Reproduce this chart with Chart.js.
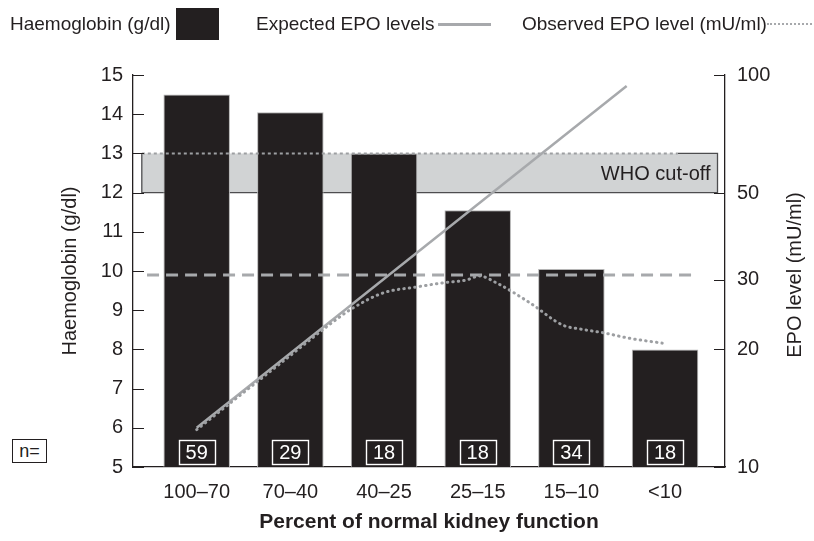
<!DOCTYPE html>
<html>
<head>
<meta charset="utf-8">
<script src="https://cdn.jsdelivr.net/npm/chart.js@4.4.1/dist/chart.umd.min.js"></script>
<style>
  body { margin: 0; background: #fff; }
  #wrap { position: relative; width: 814px; height: 541px; font-family: "Liberation Sans", Arial, sans-serif; color: #231f20; }
  #chart { position: absolute; left: 0; top: 0; }
  .lg { position: absolute; font-size: 19px; line-height: 22px; white-space: nowrap; }
  .mark { position: absolute; }
  #nlabel { position: absolute; left: 12px; top: 439px; width: 33px; height: 22px; border: 1.3px solid #231f20;
            font-size: 18px; line-height: 22px; text-align: center; background: #fff; }
</style>
</head>
<body>
<div id="wrap">
  <canvas id="chart" width="814" height="541"></canvas>
  <div id="legend"></div>
  <div id="nlabel">n=</div>
</div>
<script>
const $ = (id) => document.getElementById(id);

// categories along the x axis (percent of normal kidney function)
const categories = ["100–70", "70–40", "40–25", "25–15", "15–10", "<10"];
// mean haemoglobin per group, g/dl
const haemoglobin = [14.5, 14.05, 13.0, 11.55, 10.05, 8.0];
// number of patients per group
const patientCounts = [59, 29, 18, 18, 34, 18];
// EPO lines, x = position along the category axis (0 = first group)
const expectedEpo = [
  { x: 0, y: 12.6 },
  { x: 4.59, y: 93.7 }
];
const observedEpo = [
  { x: 0, y: 12.45 }, { x: 1, y: 19.25 }, { x: 1.42, y: 23.1 }, { x: 1.64, y: 25.2 },
  { x: 1.99, y: 27.8 }, { x: 2.35, y: 28.8 }, { x: 2.63, y: 29.5 }, { x: 2.88, y: 30.0 },
  { x: 3.02, y: 30.7 }, { x: 3.2, y: 29.5 }, { x: 3.56, y: 26.2 }, { x: 3.91, y: 23.0 },
  { x: 4.09, y: 22.5 }, { x: 4.34, y: 22.0 }, { x: 4.62, y: 21.3 }, { x: 4.97, y: 20.7 }
];
// WHO cut-off band (g/dl) and its extent along the x axis
const whoBand = [12, 13];
const whoSpan = [-0.586, 5.56];
const whoDottedEnd = 5.135;
// dashed reference level (g/dl) and its extent
const refLevel = 9.9;
const refSpan = [-0.53, 5.35];
// axis ticks
const hbTicks = [5, 6, 7, 8, 9, 10, 11, 12, 13, 14, 15];
const epoTicks = [10, 20, 30, 50, 100];

const legendItems = [
  { label: "Haemoglobin (g/dl)", x: 10, kind: "box", mx: 176 },
  { label: "Expected EPO levels", x: 256, kind: "line", mx: 438 },
  { label: "Observed EPO level (mU/ml)", x: 522, kind: "dots", mx: 767 }
];

const INK = "#231f20";
const GREY = "#a7a9ac";
const FONT = "'Liberation Sans', Arial, sans-serif";

function renderLegend() {
  let html = "";
  legendItems.forEach((it) => {
    html += `<span class="lg" style="left:${it.x}px;top:13px">${it.label}</span>`;
    if (it.kind === "box") {
      html += `<span class="mark" style="left:${it.mx}px;top:8px;width:43px;height:32px;background:${INK}"></span>`;
    } else if (it.kind === "line") {
      html += `<span class="mark" style="left:${it.mx}px;top:23px;width:53px;border-top:3px solid ${GREY}"></span>`;
    } else {
      html += `<span class="mark" style="left:${it.mx}px;top:23px;width:45px;border-top:2px dotted ${GREY}"></span>`;
    }
  });
  $("legend").innerHTML = html;
}

const annotate = {
  id: "annotate",
  afterDatasetsDraw(chart) {
    const { ctx, chartArea, scales } = chart;
    const { x, y, y2 } = scales;
    ctx.save();
    // tick marks pointing into the plot
    ctx.strokeStyle = INK;
    ctx.lineWidth = 1.2;
    ctx.beginPath();
    y.ticks.forEach((t) => {
      const py = Math.round(y.getPixelForValue(t.value)) + 0.5;
      ctx.moveTo(chartArea.left, py);
      ctx.lineTo(chartArea.left + 11, py);
    });
    y2.ticks.forEach((t) => {
      const py = Math.round(y2.getPixelForValue(t.value)) + 0.5;
      ctx.moveTo(chartArea.right, py);
      ctx.lineTo(chartArea.right - 11, py);
    });
    ctx.stroke();

    // patient counts
    ctx.font = `20px ${FONT}`;
    ctx.textAlign = "center";
    ctx.textBaseline = "middle";
    const by = chartArea.bottom - 15;
    patientCounts.forEach((n, i) => {
      const bx = x.getPixelForValue(i);
      ctx.strokeStyle = "#ffffff";
      ctx.lineWidth = 1.4;
      ctx.strokeRect(Math.round(bx - 18) + 0.5, Math.round(by - 12) + 0.5, 36, 24);
      ctx.fillStyle = "#ffffff";
      ctx.fillText(String(n), bx, by + 1);
    });

    // WHO label
    ctx.fillStyle = INK;
    ctx.textAlign = "right";
    ctx.fillText("WHO cut-off", x.getPixelForValue(whoSpan[1]) - 7, y.getPixelForValue((whoBand[0] + whoBand[1]) / 2) + 1);

    // right axis title, reading upwards
    ctx.translate(795, (chartArea.top + chartArea.bottom) / 2 + 4);
    ctx.rotate(-Math.PI / 2);
    ctx.textAlign = "center";
    ctx.font = `20px ${FONT}`;
    ctx.fillText("EPO level (mU/ml)", 0, 0);
    ctx.restore();
  }
};

Chart.defaults.font.family = FONT;
Chart.defaults.color = INK;

renderLegend();

new Chart($("chart").getContext("2d"), {
  type: "bar",
  data: {
    datasets: [
      {
        type: "line",
        label: "WHO band",
        data: [{ x: whoSpan[0], y: whoBand[1] }, { x: whoSpan[1], y: whoBand[1] }],
        yAxisID: "y",
        borderWidth: 0,
        pointRadius: 0,
        backgroundColor: "#d1d3d4",
        fill: { value: whoBand[0] },
        order: 10
      },
      {
        type: "line",
        label: "WHO outline",
        data: [
          { x: whoDottedEnd, y: whoBand[1] }, { x: whoSpan[1], y: whoBand[1] },
          { x: whoSpan[1], y: whoBand[0] }, { x: whoSpan[0], y: whoBand[0] },
          { x: whoSpan[0], y: whoBand[1] }
        ],
        yAxisID: "y",
        borderColor: "#4d4d4f",
        borderWidth: 1.3,
        pointRadius: 0,
        fill: false,
        order: 9
      },
      {
        label: "Haemoglobin (g/dl)",
        data: haemoglobin.map((v, i) => ({ x: i, y: v })),
        yAxisID: "y",
        backgroundColor: INK,
        borderColor: "#b5b5b5",
        borderWidth: 1,
        categoryPercentage: 1,
        barPercentage: 0.71,
        order: 5
      },
      {
        type: "line",
        label: "WHO level",
        data: [{ x: whoSpan[0], y: whoBand[1] }, { x: whoDottedEnd, y: whoBand[1] }],
        yAxisID: "y",
        borderColor: "#9d9fa2",
        borderWidth: 2,
        borderDash: [3, 3],
        pointRadius: 0,
        order: 4
      },
      {
        type: "line",
        label: "Reference level",
        data: [{ x: refSpan[0], y: refLevel }, { x: refSpan[1], y: refLevel }],
        yAxisID: "y",
        borderColor: GREY,
        borderWidth: 3,
        borderDash: [12, 7],
        pointRadius: 0,
        order: 3
      },
      {
        type: "line",
        label: "Expected EPO levels",
        data: expectedEpo,
        yAxisID: "y2",
        borderColor: GREY,
        borderWidth: 2.5,
        pointRadius: 0,
        order: 2
      },
      {
        type: "line",
        label: "Observed EPO level (mU/ml)",
        data: observedEpo,
        yAxisID: "y2",
        borderColor: "#9d9fa2",
        borderWidth: 3,
        borderCapStyle: "round",
        borderDash: [0.5, 5],
        cubicInterpolationMode: "monotone",
        pointRadius: 0,
        order: 1
      }
    ]
  },
  options: {
    responsive: false,
    animation: false,
    events: [],
    layout: { padding: { top: 75, left: 0, right: 0, bottom: 0 } },
    plugins: { legend: { display: false }, tooltip: { enabled: false } },
    scales: {
      x: {
        type: "linear",
        min: -0.68,
        max: 5.64,
        offset: false,
        afterFit: (s) => { s.height = 74; },
        afterBuildTicks: (s) => { s.ticks = categories.map((c, i) => ({ value: i })); },
        ticks: { callback: (v) => categories[v], font: { size: 20 }, padding: 13, maxRotation: 0, autoSkip: false },
        grid: { display: true, drawOnChartArea: false, drawTicks: false, offset: false },
        border: { display: true, color: INK, width: 1.3 },
        title: {
          display: true,
          text: "Percent of normal kidney function",
          font: { size: 21, weight: "bold" },
          padding: { top: 0, bottom: 6 }
        }
      },
      y: {
        position: "left",
        min: 5,
        max: 15,
        afterFit: (s) => { s.width = 133; },
        afterBuildTicks: (s) => { s.ticks = hbTicks.map((v) => ({ value: v })); },
        ticks: { font: { size: 20 }, padding: 10 },
        grid: { display: true, drawOnChartArea: false, drawTicks: false },
        border: { display: true, color: INK, width: 1.3 },
        title: { display: true, text: "Haemoglobin (g/dl)", font: { size: 20 }, padding: { top: 58, bottom: 0 } }
      },
      y2: {
        type: "logarithmic",
        position: "right",
        min: 10,
        max: 100,
        afterFit: (s) => { s.width = 89; },
        afterBuildTicks: (s) => { s.ticks = epoTicks.map((v) => ({ value: v })); },
        ticks: { font: { size: 20 }, padding: 12, callback: (v) => String(v) },
        grid: { display: true, drawOnChartArea: false, drawTicks: false },
        border: { display: true, color: INK, width: 1.3 }
      }
    }
  },
  plugins: [annotate]
});
</script>
</body>
</html>
